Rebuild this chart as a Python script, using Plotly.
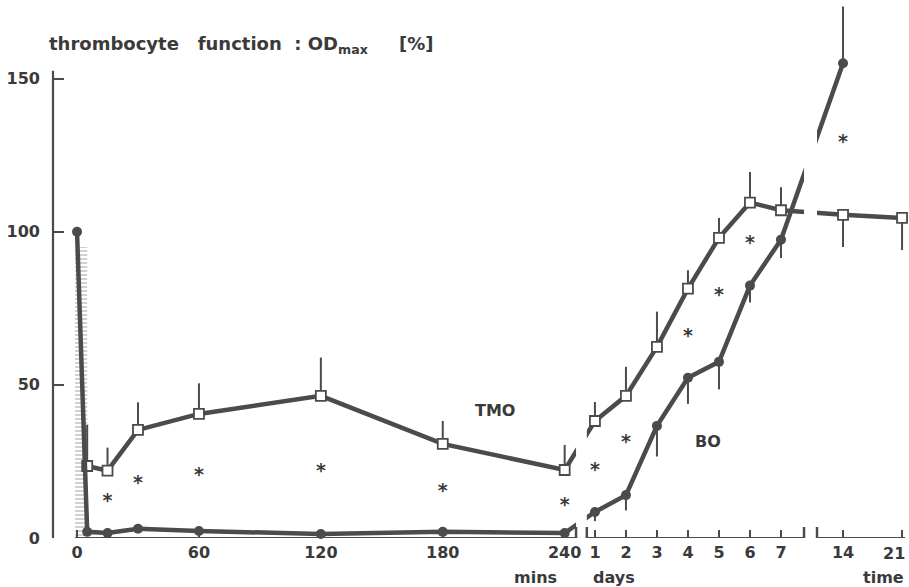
import plotly.graph_objects as go

# time points of the three axis sections
mins = [5, 15, 30, 60, 120, 180, 240]
days = [1, 2, 3, 4, 5, 6, 7]
late = [14, 21]

# TMO (open squares), OD max in %
tmo_mins = [23.5, 22, 35.3, 40.5, 46.4, 30.7, 22.2]
tmo_mins_up = [13.5, 7.5, 9, 10, 12.5, 7.5, 8.2]
tmo_days = [38.2, 46.4, 62.4, 81.4, 98, 109.5, 107]
tmo_days_up = [6.2, 9.5, 11.5, 6, 6.5, 10, 7.5]
tmo_late = [105.5, 104.5]
tmo_late_down = [10.5, 10.5]

# BO (filled circles)
bo_mins = [100, 2, 1.6, 3, 2.3, 1.3, 2, 1.6]   # first value is t = 0
bo_days = [8.5, 14, 36.6, 52.3, 57.5, 82.4, 97.4]
bo_days_down = [3, 5, 10, 8.5, 9, 5.5, 6]
bo_late = [155]
bo_late_up = [18.5]

# significance stars
star_mins = [15, 30, 60, 120, 180, 240]
star_mins_y = [11.8, 17.6, 20.3, 21.6, 15, 10.5]
star_days = [1, 2, 4, 5, 6]
star_days_y = [21.9, 31, 65.7, 79, 96]
star_late = [14]
star_late_y = [129]

xticks_min = [0, 60, 120, 180, 240]
yticks = [0, 50, 100, 150]
shade_mins = [-1, 5]


# broken time axis: minutes, then days 1-7, then weeks
def p_min(m):
    return m


def p_day(d):
    return 254.9 + (d - 1) * 15.26


def p_late(d):
    return 377.0 + (d - 14) * 4.15


GAPS = [(245.6, 250.9), (357.8, 364.2)]
XR = [-1, 407.5]

INK = '#4b4b4b'
TXT = '#3a3a3a'
FONT = dict(family='DejaVu Sans', size=16, color=TXT, weight='bold')

fig = go.Figure()

# hatched strip at the start
fig.add_trace(go.Scatter(
    x=[shade_mins[0], shade_mins[1], shade_mins[1], shade_mins[0]],
    y=[0, 0, 95, 95], fill='toself', mode='none',
    fillcolor='rgba(0,0,0,0)',
    fillpattern=dict(shape='-', fgcolor='#9a9a9a', bgcolor='white', size=4, solidity=0.45),
    hoverinfo='skip', showlegend=False))

tmo_x = [p_min(m) for m in mins] + [p_day(d) for d in days] + [p_late(d) for d in late]
tmo_y = tmo_mins + tmo_days + tmo_late
tmo_up = tmo_mins_up + tmo_days_up + [0] * len(late)
tmo_dn = [0] * (len(mins) + len(days)) + tmo_late_down

fig.add_trace(go.Scatter(
    x=tmo_x, y=tmo_y, mode='lines+markers', cliponaxis=False,
    line=dict(color=INK, width=4.5),
    marker=dict(symbol='square', size=10, color='white', line=dict(color=INK, width=1.8)),
    error_y=dict(type='data', symmetric=False, array=tmo_up, arrayminus=tmo_dn,
                 width=0, thickness=2, color=INK),
    showlegend=False))

bo_x = [p_min(m) for m in [0] + mins] + [p_day(d) for d in days] + [p_late(late[0])]
bo_y = bo_mins + bo_days + bo_late
bo_up = [0] * (len(mins) + 1 + len(days)) + bo_late_up
bo_dn = [0] * (len(mins) + 1) + bo_days_down + [0]

fig.add_trace(go.Scatter(
    x=bo_x, y=bo_y, mode='lines+markers', cliponaxis=False,
    line=dict(color=INK, width=4.5),
    marker=dict(symbol='circle', size=10, color=INK),
    error_y=dict(type='data', symmetric=False, array=bo_up, arrayminus=bo_dn,
                 width=0, thickness=2, color=INK),
    showlegend=False))

star_x = [p_min(m) for m in star_mins] + [p_day(d) for d in star_days] + [p_late(d) for d in star_late]
star_y = star_mins_y + star_days_y + star_late_y
fig.add_trace(go.Scatter(
    x=star_x, y=star_y, mode='text', text=['*'] * len(star_x),
    textfont=dict(family='DejaVu Sans', size=19, color=TXT, weight='bold'),
    cliponaxis=False, showlegend=False))

shapes = []
# white bands to break the lines at the axis gaps
for a, b in GAPS:
    shapes.append(dict(type='rect', xref='x', yref='y', x0=a, x1=b, y0=-1, y1=180,
                       fillcolor='white', line=dict(width=0), layer='above'))
# baseline segments and break marks
edges = [XR[0], GAPS[0][0], GAPS[0][1], GAPS[1][0], GAPS[1][1], XR[1]]
for i in range(0, len(edges), 2):
    shapes.append(dict(type='line', xref='x', yref='y', x0=edges[i], x1=edges[i + 1],
                       y0=0, y1=0, line=dict(color=INK, width=2.2), layer='above'))
for e in edges[1:-1]:
    shapes.append(dict(type='line', xref='x', yref='y', x0=e, x1=e, y0=-3.3, y1=3.6,
                       line=dict(color=INK, width=2.5), layer='above'))
# y axis line
shapes.append(dict(type='line', xref='paper', yref='y', x0=0, x1=0, y0=0, y1=152.5,
                   line=dict(color=INK, width=2.2), layer='above'))
fig.update_layout(shapes=shapes)

# last tick label sits at the right edge, drawn as annotation below
tickvals = [p_min(m) for m in xticks_min] + [p_day(d) for d in days] + [p_late(d) for d in late]
ticktext = [str(v) for v in xticks_min] + [str(d) for d in days] + [str(late[0]), ' ']

fig.update_xaxes(range=XR, domain=[22 / 852, 1], showgrid=False, zeroline=False,
                 showline=False, tickvals=tickvals, ticktext=ticktext, automargin=False,
                 ticks='inside', ticklen=8, tickwidth=2, tickcolor=INK,
                 tickfont=FONT, ticklabelstandoff=3)
fig.update_yaxes(range=[0, 174], anchor='free', position=0, showgrid=False,
                 zeroline=False, showline=False, tickvals=yticks, automargin=False,
                 ticks='inside', ticklen=10, tickwidth=2, tickcolor=INK,
                 tickfont=FONT, ticklabelstandoff=13)

TITLE_FONT = dict(family='DejaVu Sans', size=18, color=TXT, weight='bold')
ann = [
    dict(text='thrombocyte   function  : OD<sub>max</sub>     [%]', xref='paper', yref='paper',
         x=-6 / 852, y=1.0, xanchor='left', yanchor='middle', yshift=-40,
         showarrow=False, font=TITLE_FONT),
    dict(text='TMO', xref='x', yref='y', x=205.7, y=41.5, showarrow=False, font=FONT),
    dict(text='BO', xref='x', yref='y', x=p_day(4.65), y=31.4, showarrow=False, font=FONT),
    dict(text=str(late[1]), xref='x', yref='paper', x=p_late(late[1]), y=-15 / 533,
         xanchor='right', yanchor='middle', xshift=5, showarrow=False, font=FONT),
    dict(text='mins', xref='x', yref='paper', x=p_min(240), y=-39 / 533, xanchor='right',
         yanchor='middle', xshift=-6, showarrow=False, font=FONT),
    dict(text='days', xref='x', yref='paper', x=p_day(1), y=-39 / 533, xanchor='left',
         yanchor='middle', xshift=-4, showarrow=False, font=FONT),
    dict(text='time', xref='x', yref='paper', x=p_late(21), y=-39 / 533, xanchor='right',
         yanchor='middle', xshift=4, showarrow=False, font=FONT),
]
fig.update_layout(annotations=ann)

fig.update_layout(width=909, height=587, margin=dict(l=53, r=4, t=5, b=49),
                  plot_bgcolor='white', paper_bgcolor='white')

fig.write_html("out.html", config={'displayModeBar': False},
               post_script="document.body.style.margin='0px';")
